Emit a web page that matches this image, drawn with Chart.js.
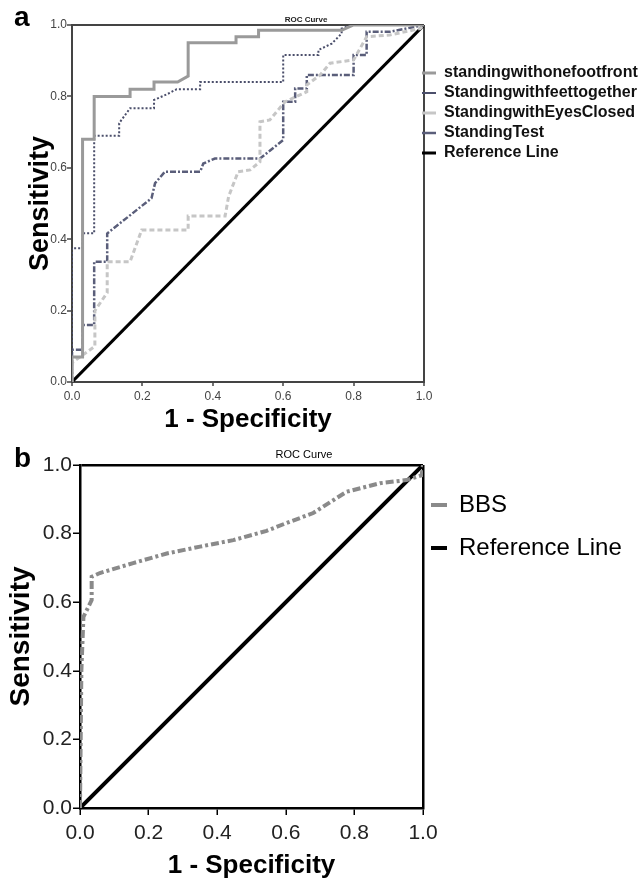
<!DOCTYPE html>
<html>
<head>
<meta charset="utf-8">
<title>ROC Curves</title>
<script src="https://cdn.jsdelivr.net/npm/chart.js@4.4.1/dist/chart.umd.min.js"></script>
<style>
  body { margin: 0; background: #fff; width: 641px; height: 881px; overflow: hidden; position: relative; }
  canvas { position: absolute; left: 0; }
  #chartA { top: 0; }
  #chartB { top: 432px; background: #fff; }
  .panel { position: absolute; left: 14px; font: bold 28px Arial, "Liberation Sans", sans-serif; line-height: 28px; color: #000; }
</style>
</head>
<body>
<canvas id="chartA" width="641" height="440"></canvas>
<canvas id="chartB" width="641" height="449"></canvas>
<div class="panel" style="top:3px">a</div>
<div class="panel" style="top:444px">b</div>
<script>
const FONT = 'Arial, "Liberation Sans", sans-serif';

// shared axis labels
const tickLabels = ['0.0', '0.2', '0.4', '0.6', '0.8', '1.0'];

// panel a: four balance tests
const footFrontX = [0, 0, 0.03, 0.03, 0.063, 0.063, 0.165, 0.165, 0.233, 0.233, 0.30, 0.33, 0.33, 0.466, 0.466, 0.53, 0.53, 0.766, 0.80, 1];
const footFrontY = [0, 0.07, 0.07, 0.68, 0.68, 0.80, 0.80, 0.82, 0.82, 0.84, 0.84, 0.857, 0.95, 0.95, 0.967, 0.967, 0.985, 0.985, 1, 1];

const feetTogetherX = [0, 0, 0.03, 0.03, 0.063, 0.063, 0.134, 0.134, 0.165, 0.233, 0.233, 0.27, 0.297, 0.364, 0.364, 0.60, 0.60, 0.70, 0.70, 0.738, 0.766, 0.766, 0.795, 1];
const feetTogetherY = [0, 0.375, 0.375, 0.417, 0.417, 0.69, 0.69, 0.725, 0.767, 0.767, 0.79, 0.806, 0.82, 0.82, 0.84, 0.84, 0.916, 0.916, 0.93, 0.948, 0.976, 0.99, 1, 1];

const eyesClosedX = [0, 0, 0.003, 0.065, 0.065, 0.10, 0.10, 0.165, 0.198, 0.33, 0.33, 0.435, 0.445, 0.472, 0.506, 0.534, 0.534, 0.562, 0.605, 0.667, 0.667, 0.705, 0.733, 0.80, 0.837, 0.903, 0.989, 1];
const eyesClosedY = [0, 0.05, 0.056, 0.10, 0.20, 0.25, 0.337, 0.337, 0.426, 0.426, 0.465, 0.465, 0.52, 0.589, 0.594, 0.617, 0.729, 0.734, 0.785, 0.813, 0.832, 0.86, 0.893, 0.902, 0.967, 0.972, 0.99, 1];

const standingTestX = [0, 0, 0.03, 0.03, 0.063, 0.063, 0.10, 0.10, 0.226, 0.236, 0.264, 0.364, 0.373, 0.406, 0.534, 0.60, 0.60, 0.634, 0.634, 0.667, 0.667, 0.80, 0.80, 0.837, 0.837, 0.903, 1];
const standingTestY = [0, 0.09, 0.09, 0.16, 0.16, 0.337, 0.337, 0.416, 0.515, 0.557, 0.589, 0.589, 0.612, 0.626, 0.626, 0.678, 0.785, 0.785, 0.822, 0.822, 0.86, 0.86, 0.916, 0.916, 0.981, 0.981, 1];

// panel b: Berg Balance Scale
const bbsX = [0, 0.004, 0.01, 0.034, 0.034, 0.058, 0.155, 0.253, 0.35, 0.447, 0.544, 0.60, 0.68, 0.777, 0.875, 0.952, 0.996, 1];
const bbsY = [0, 0.40, 0.557, 0.606, 0.674, 0.685, 0.714, 0.742, 0.762, 0.781, 0.808, 0.83, 0.86, 0.922, 0.947, 0.956, 0.97, 1];

const refX = [0, 1];
const refY = [0, 1];

function pts(xs, ys) {
  return xs.map((x, i) => ({ x: x, y: ys[i] }));
}

function line(label, xs, ys, color, width, dash) {
  return {
    label: label,
    data: pts(xs, ys),
    showLine: true,
    borderColor: color,
    backgroundColor: color,
    borderWidth: width,
    borderDash: dash || [],
    pointRadius: 0,
    tension: 0
  };
}

// nudge the legend so its line markers sit against the plot frame,
// and let its box run to the canvas edge so long names are not clipped
const legendShift = {
  id: 'legendShift',
  afterLayout(chart, args, opts) {
    const lg = chart.legend;
    if (!lg || !opts.dx) return;
    lg.left += opts.dx;
    lg.right = chart.width;
    lg.width = lg.right - lg.left;
  }
};

const isEdge = v => Math.abs(v - 1) < 1e-6;

function axis(o) {
  return {
    type: 'linear',
    min: 0,
    max: 1,
    afterFit: o.fit,
    border: { color: o.frame, width: o.frameWidth },
    grid: {
      color: c => (c.tick && isEdge(c.tick.value)) ? o.frame : 'rgba(0,0,0,0)',
      lineWidth: o.frameWidth,
      tickColor: o.frame,
      tickLength: o.tickLength,
      tickWidth: 1.5
    },
    ticks: {
      stepSize: 0.2,
      autoSkip: false,
      maxRotation: 0,
      padding: o.tickPadding,
      color: o.tickColor,
      font: { family: FONT, size: o.tickSize },
      callback: (v, i) => tickLabels[i]
    },
    title: {
      display: true,
      text: o.title,
      color: '#000',
      font: { family: FONT, size: o.titleSize, weight: 'bold' },
      padding: o.titlePadding
    }
  };
}

new Chart(document.getElementById('chartA'), {
  type: 'scatter',
  data: {
    datasets: [
      line('standingwithonefootfront', footFrontX, footFrontY, '#9a9a9a', 3),
      line('Standingwithfeettogether', feetTogetherX, feetTogetherY, '#4b4f6b', 2, [2, 2]),
      line('StandingwithEyesClosed', eyesClosedX, eyesClosedY, '#c6c6c6', 3, [5, 3]),
      line('StandingTest', standingTestX, standingTestY, '#5a5e7a', 2.5, [6, 2, 2, 2]),
      line('Reference Line', refX, refY, '#000', 3)
    ]
  },
  options: {
    responsive: false,
    animation: false,
    layout: { padding: { left: 0, right: 29, top: 0, bottom: 0 } },
    scales: {
      x: axis({ fit: s => { s.height = 58; }, frame: '#444', frameWidth: 2, tickLength: 4, tickPadding: 3,
        tickColor: '#444', tickSize: 12, title: '1 - Specificity', titleSize: 26, titlePadding: { top: 0, bottom: 4.4 } }),
      y: axis({ fit: s => { s.width = 72; }, frame: '#444', frameWidth: 2, tickLength: 5, tickPadding: 0,
        tickColor: '#444', tickSize: 12, title: 'Sensitivity', titleSize: 27, titlePadding: { top: 24.8, bottom: 0 } })
    },
    plugins: {
      title: {
        display: true,
        text: 'ROC Curve',
        color: '#222',
        font: { family: FONT, size: 8, weight: 'bold' },
        padding: { top: 15.2, bottom: 0.2 }
      },
      legend: {
        position: 'right',
        align: 'start',
        fullSize: false,
        maxWidth: 188,
        title: { display: true, text: ' ', font: { size: 1 }, padding: { top: 34.8, bottom: 0 } },
        labels: {
          usePointStyle: true,
          pointStyle: 'line',
          pointStyleWidth: 14,
          padding: 4,
          color: '#111',
          font: { family: FONT, size: 16, weight: 'bold' }
        }
      },
      tooltip: { enabled: false },
      legendShift: { dx: -6 }
    }
  },
  plugins: [legendShift]
});

new Chart(document.getElementById('chartB'), {
  type: 'scatter',
  data: {
    datasets: [
      line('BBS', bbsX, bbsY, '#8a8a8a', 4, [8, 3, 3, 3]),
      line('Reference Line', refX, refY, '#000', 4)
    ]
  },
  options: {
    responsive: false,
    animation: false,
    layout: { padding: { left: 0, right: 33, top: 0, bottom: 0 } },
    scales: {
      x: axis({ fit: s => { s.height = 73; }, frame: '#000', frameWidth: 2.5, tickLength: 7, tickPadding: 6,
        tickColor: '#222', tickSize: 21, title: '1 - Specificity', titleSize: 26, titlePadding: { top: 0, bottom: 0 } }),
      y: axis({ fit: s => { s.width = 80; }, frame: '#000', frameWidth: 2.5, tickLength: 7, tickPadding: 1,
        tickColor: '#222', tickSize: 21, title: 'Sensitivity', titleSize: 28, titlePadding: { top: 4.7, bottom: 0 } })
    },
    plugins: {
      title: {
        display: true,
        text: 'ROC Curve',
        color: '#000',
        font: { family: FONT, size: 11, weight: 'normal' },
        padding: { top: 16.4, bottom: 3.4 }
      },
      legend: {
        position: 'right',
        align: 'start',
        fullSize: false,
        maxWidth: 185,
        title: { display: true, text: ' ', font: { size: 1 }, padding: { top: 7.8, bottom: 0 } },
        labels: {
          usePointStyle: true,
          pointStyle: 'line',
          pointStyleWidth: 16,
          padding: 19,
          color: '#000',
          font: { family: FONT, size: 24 }
        }
      },
      tooltip: { enabled: false },
      legendShift: { dx: -11 }
    }
  },
  plugins: [legendShift]
});
</script>
</body>
</html>
